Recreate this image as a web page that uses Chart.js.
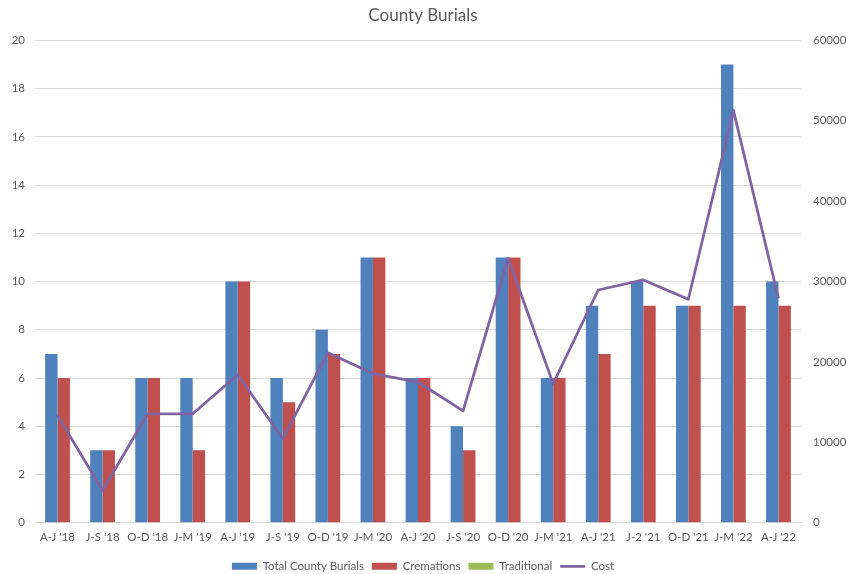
<!DOCTYPE html>
<html>
<head>
<meta charset="utf-8">
<title>County Burials</title>
<script src="https://cdn.jsdelivr.net/npm/chart.js@4"></script>
<style>
  html, body { margin: 0; padding: 0; background: #ffffff; }
  #wrap { width: 846px; height: 574px; }
</style>
</head>
<body>
<div id="wrap"><canvas id="chart" width="846" height="574"></canvas></div>
<script>
// ── Quarterly burial counts and cost ──
const quarters = ["A-J '18", "J-S '18", "O-D '18", "J-M '19", "A-J '19", "J-S '19", "O-D '19", "J-M '20",
                  "A-J '20", "J-S '20", "O-D '20", "J-M '21", "A-J '21", "J-2 '21", "O-D '21", "J-M '22", "A-J '22"];
const totalBurials = [7, 3, 6, 6, 10, 6, 8, 11, 6, 4, 11, 6, 9, 10, 9, 19, 10];
const cremations   = [6, 3, 6, 3, 10, 5, 7, 11, 6, 3, 11, 6, 7, 9, 9, 9, 9];
const traditional  = quarters.map(() => null); // no traditional burials plotted
const cost = [13350, 4000, 13550, 13550, 18400, 10450, 21150, 18550, 17500, 13900,
              32900, 17300, 28950, 30200, 27800, 51300, 27900];

const countTicks = [0, 2, 4, 6, 8, 10, 12, 14, 16, 18, 20];
const costTicks  = [0, 10000, 20000, 30000, 40000, 50000, 60000];

const FONT = 'Lato, "Open Sans", sans-serif';
const TEXT = '#595959';
const GRID = '#d9d9d9';

const barOpts = {
  type: 'bar',
  yAxisID: 'y',
  order: 1,
  pointStyle: 'rect',
  skipNull: true,
  barPercentage: 1,
  categoryPercentage: 0.55,
};

// legend box is a bit too tall by default, trim it so the plot gets the room
const legendTrim = {
  id: 'legendTrim',
  afterInit(chart) {
    const leg = chart.legend;
    const fit = leg.fit.bind(leg);
    leg.fit = () => { fit(); leg.height -= 10; };
  },
};

new Chart(document.getElementById('chart'), {
  data: {
    labels: quarters,
    datasets: [
      { ...barOpts, label: 'Total County Burials', data: totalBurials, backgroundColor: '#4f81bd' },
      { ...barOpts, label: 'Cremations', data: cremations, backgroundColor: '#c0504d' },
      { ...barOpts, label: 'Traditional', data: traditional, backgroundColor: '#9bbb59' },
      {
        type: 'line',
        label: 'Cost',
        data: cost,
        yAxisID: 'y2',
        order: 0,
        borderColor: '#8064a2',
        backgroundColor: '#8064a2',
        borderWidth: 2.75,
        borderJoinStyle: 'round',
        pointRadius: 0,
        pointStyle: 'line',
        tension: 0,
      },
    ],
  },
  plugins: [legendTrim],
  options: {
    responsive: false,
    animation: false,
    layout: { padding: { top: 0, bottom: 2, left: 0, right: 0 } },
    plugins: {
      title: {
        display: true,
        text: 'County Burials',
        color: TEXT,
        font: { family: FONT, size: 17, weight: 'normal' },
        padding: { top: 5, bottom: 15 },
      },
      legend: {
        position: 'bottom',
        labels: {
          color: TEXT,
          font: { family: FONT, size: 11.5 },
          usePointStyle: true,
          pointStyleWidth: 25,
          boxHeight: 7,
          padding: 8,
          sort: (a, b) => a.datasetIndex - b.datasetIndex,
        },
      },
      tooltip: { enabled: false },
    },
    scales: {
      x: {
        grid: { display: false, drawTicks: false },
        border: { display: true, color: GRID },
        ticks: { color: TEXT, font: { family: FONT, size: 11.5 }, padding: 8, maxRotation: 0, autoSkip: false },
      },
      y: {
        position: 'left',
        min: 0,
        max: 20,
        afterBuildTicks: s => { s.ticks = countTicks.map(v => ({ value: v })); },
        afterFit: s => { s.width = 35; },
        grid: { color: GRID, drawTicks: false },
        border: { display: false },
        ticks: { color: TEXT, font: { family: FONT, size: 11.5 }, padding: 10 },
      },
      y2: {
        position: 'right',
        min: 0,
        max: 60000,
        afterBuildTicks: s => { s.ticks = costTicks.map(v => ({ value: v })); },
        afterFit: s => { s.width = 45; },
        grid: { display: false, drawTicks: false },
        border: { display: false },
        ticks: { color: TEXT, font: { family: FONT, size: 11.5 }, padding: 12, callback: v => String(v) },
      },
    },
  },
});
</script>
</body>
</html>
